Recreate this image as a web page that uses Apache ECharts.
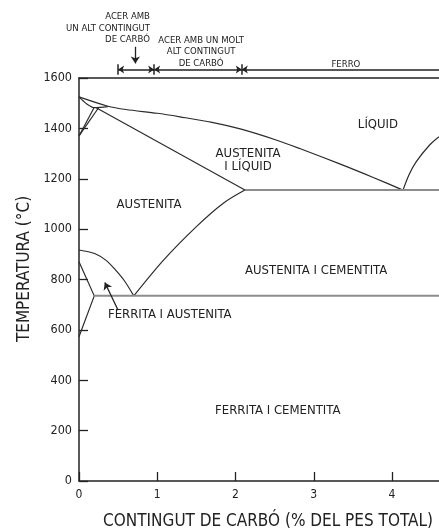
<!DOCTYPE html>
<html>
<head>
<meta charset="utf-8">
<script src="https://cdn.jsdelivr.net/npm/echarts@6/dist/echarts.min.js"></script>
<style>
  html, body { margin: 0; padding: 0; background: #ffffff; }
  #chart { width: 439px; height: 529px; }
</style>
</head>
<body>
<div id="chart"></div>
<script>
// Iron–carbon phase diagram (carbon content in % by weight vs temperature in °C)

// Axis ticks
const carbonTicks = [0, 1, 2, 3, 4];
const tempTickStep = 200;

// Phase boundaries, [carbon %, °C]
const liquidus = [[0, 1525], [0.37, 1488], [0.6, 1475], [1.0, 1460], [1.29, 1446], [1.7, 1424],
                  [2.06, 1398], [2.5, 1356], [2.82, 1320], [3.34, 1258], [3.76, 1205], [4.14, 1155]];
const liquidusRight = [[4.14, 1155], [4.22, 1218], [4.31, 1268], [4.48, 1334], [4.6, 1367]];
const deltaLower = [[0, 1525], [0.1, 1497], [0.2, 1482], [0.37, 1486]];
const solidus = [[0.22, 1482], [2.12, 1155]];
const deltaGammaA = [[0.19, 1481], [0, 1370]];
const deltaGammaB = [[0.25, 1482], [0, 1370]];
const eutecticLine = [[2.12, 1155], [4.6, 1155]];
const acmLine = [[0.70, 735], [1.08, 877], [1.50, 1010], [1.84, 1102], [2.12, 1155]];
const a3Line = [[0, 917], [0.2, 903], [0.35, 875], [0.46, 840], [0.58, 795], [0.70, 735]];
const ferriteLine = [[0, 870], [0.195, 735], [0, 573]];
const eutectoidLine = [[0.195, 735], [4.6, 735]];

// Phase-field names and where they sit
const regionNames = ['AUSTENITA', 'AUSTENITA\nI LÍQUID', 'LÍQUID', 'AUSTENITA I CEMENTITA',
                     'FERRITA I AUSTENITA', 'FERRITA I CEMENTITA'];
const regionAnchors = [[0.895, 1098], [2.16, 1274], [3.82, 1416], [3.03, 834], [1.16, 659], [2.54, 279]];

// Steel / iron ranges shown above the plot
const rangeBreaks = [0.5, 0.96, 2.08];
const rangeEnd = 4.6;
const rangeLevel = 1634;
const rangeNames = ['ACER AMB\nUN ALT CONTINGUT\nDE CARBÓ', 'ACER AMB UN MOLT\nALT CONTINGUT\nDE CARBÓ', 'FERRO'];
const rangeAnchors = [[0.907, 1797], [1.56, 1705], [3.41, 1653]];
const pointerTop = [[0.72, 1724], [0.72, 1658]];

// Pointer into the ferrite + austenite field
const ferritePointer = [[0.50, 678], [0.33, 788]];

const FONT = '"DejaVu Sans Condensed", "DejaVu Sans", sans-serif';
const INK = '#222222';

const chart = echarts.init(document.getElementById('chart'), null, { renderer: 'canvas' });

function boundary(data, smooth, style) {
  return {
    type: 'line', data: data, smooth: smooth, showSymbol: false, symbol: 'none', silent: true,
    lineStyle: Object.assign({ color: '#2b2b2b', width: 1.2 }, style || {}), z: 3
  };
}

const rangeSegments = [];
const rangeBounds = rangeBreaks.concat([rangeEnd]);
for (let i = 0; i < rangeBounds.length - 1; i++) {
  const last = i === rangeBounds.length - 2;
  rangeSegments.push({
    coords: [[rangeBounds[i], rangeLevel], [rangeBounds[i + 1], rangeLevel]],
    symbol: last ? ['arrow', 'none'] : ['arrow', 'arrow']
  });
}
const rangeBars = rangeBreaks.map(x => ({ coords: [[x, rangeLevel - 21], [x, rangeLevel + 21]], symbol: ['none', 'none'] }));

const textLabel = (size, lh) => ({
  show: true, position: 'inside', formatter: '{b}', color: INK, fontSize: size,
  fontFamily: FONT, lineHeight: lh, align: 'center', verticalAlign: 'middle',
  textBorderWidth: 0, textShadowBlur: 0
});

chart.setOption({
  animation: false,
  backgroundColor: '#ffffff',
  grid: { left: 79, right: 0, top: 78, bottom: 48, containLabel: false, outerBoundsMode: 'none' },
  xAxis: [{
    type: 'value', min: 0, max: 4.6, position: 'bottom',
    axisLine: { show: true, lineStyle: { color: INK, width: 1.5 } },
    axisTick: { show: true, inside: true, length: 9, customValues: carbonTicks, lineStyle: { color: INK, width: 1.3 } },
    axisLabel: { show: true, customValues: carbonTicks, margin: 8, color: INK, fontSize: 12, fontFamily: FONT },
    splitLine: { show: false }
  }, {
    type: 'value', min: 0, max: 4.6, position: 'top',
    axisLine: { show: true, lineStyle: { color: INK, width: 1.5 } },
    axisTick: { show: false }, axisLabel: { show: false }, splitLine: { show: false }
  }],
  yAxis: {
    type: 'value', min: 0, max: 1600, interval: tempTickStep,
    axisLine: { show: true, lineStyle: { color: INK, width: 1.5 } },
    axisTick: { show: true, inside: true, length: 9, lineStyle: { color: INK, width: 1.3 } },
    axisLabel: { show: true, margin: 7, color: INK, fontSize: 12.5, fontFamily: FONT,
                 formatter: v => String(v) },
    splitLine: { show: false }
  },
  graphic: [
    { type: 'text', x: 268, y: 522, style: { text: 'CONTINGUT DE CARBÓ (% DEL PES TOTAL)', fill: INK,
      font: '17px ' + FONT, align: 'center', verticalAlign: 'middle' } },
    { type: 'text', x: 25, y: 269, rotation: Math.PI / 2, style: { text: 'TEMPERATURA (°C)', fill: INK,
      font: '17px ' + FONT, align: 'center', verticalAlign: 'middle' } }
  ],
  series: [
    boundary(liquidus, 0.3),
    boundary(liquidusRight, 0.3),
    boundary(deltaLower, 0.3),
    boundary(solidus, false),
    boundary(deltaGammaA, false),
    boundary(deltaGammaB, false),
    boundary(acmLine, 0.3),
    boundary(a3Line, 0.3),
    boundary(ferriteLine, false),
    boundary(eutecticLine, false, { color: '#8c8c8c', width: 2 }),
    boundary(eutectoidLine, false, { color: '#8c8c8c', width: 2 }),
    {
      type: 'lines', coordinateSystem: 'cartesian2d', clip: false, silent: true, z: 4,
      symbolSize: 6,
      lineStyle: { color: INK, width: 1.5, opacity: 1 },
      data: rangeSegments.concat(rangeBars)
    },
    {
      type: 'lines', coordinateSystem: 'cartesian2d', clip: false, silent: true, z: 4,
      symbol: ['none', 'arrow'], symbolSize: 7,
      lineStyle: { color: INK, width: 1.3, opacity: 1 },
      data: [{ coords: pointerTop }, { coords: ferritePointer }]
    },
    {
      type: 'scatter', clip: false, silent: true, symbolSize: 0, z: 5,
      itemStyle: { color: INK, opacity: 1 },
      label: textLabel(13, 13.5),
      data: regionNames.map((n, i) => ({ name: n, value: regionAnchors[i] }))
    },
    {
      type: 'scatter', clip: false, silent: true, symbolSize: 0, z: 5,
      itemStyle: { color: INK, opacity: 1 },
      label: textLabel(9.5, 11.5),
      data: rangeNames.map((n, i) => ({
        name: n, value: rangeAnchors[i],
        label: i === 0 ? { align: 'right' } : {}
      }))
    }
  ]
});
</script>
</body>
</html>
